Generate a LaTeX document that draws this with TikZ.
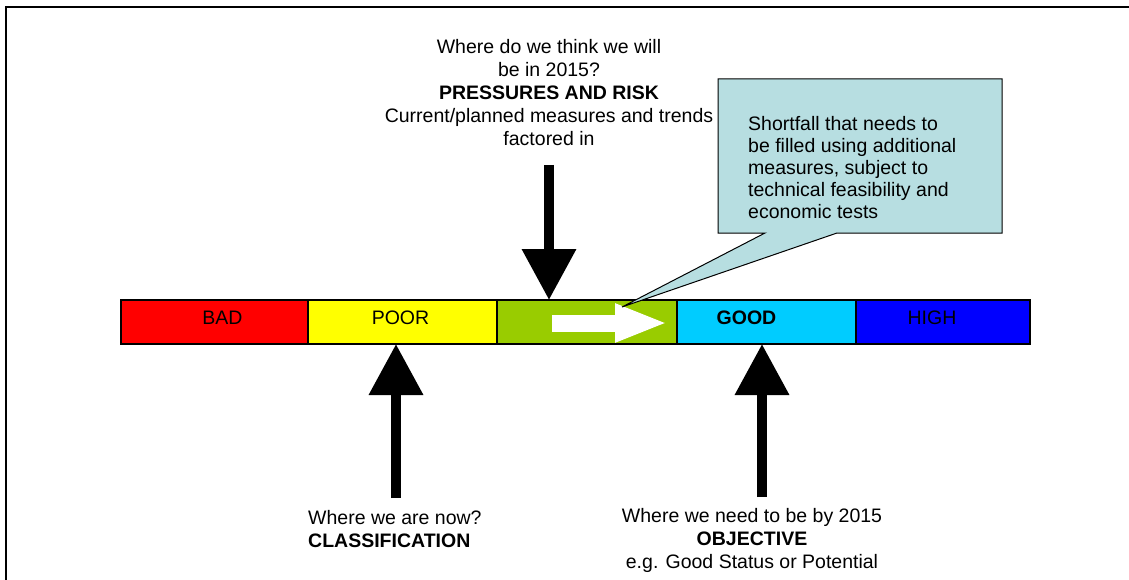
\documentclass[tikz,border=0pt]{standalone}
\usepackage{fontspec}
\setmainfont{Liberation Sans}
\usetikzlibrary{arrows.meta,calc}

\definecolor{badred}{HTML}{FF0000}
\definecolor{pooryellow}{HTML}{FFFF00}
\definecolor{modgreen}{HTML}{99CC00}
\definecolor{goodcyan}{HTML}{00CCFF}
\definecolor{highblue}{HTML}{0000FF}
\definecolor{calloutfill}{HTML}{B7DEE1}

\tikzset{
  seg/.style={draw=black, line width=1.5pt, rectangle, inner sep=0pt,
    outer sep=0pt, minimum height=44pt, anchor=north west},
  barlabel/.style={font=\fontsize{19.5}{22}\selectfont, inner sep=0pt},
  txt/.style={font=\fontsize{19.5}{23}\selectfont, inner sep=0pt},
  calltxt/.style={font=\fontsize{19.5}{22}\selectfont, inner sep=0pt, align=left, anchor=west},
  blockarrow/.style={draw=black, line width=10pt, -{Triangle[width=52pt,length=51pt]}},
  shortarrow/.style={draw=white, line width=17pt, -{Triangle[width=35pt,length=53pt]}},
  callout/.style={fill=calloutfill, draw=black, line width=1pt, line join=miter},
  frameline/.style={draw=black, line width=2pt}
}

\begin{document}
\begin{tikzpicture}[x=1pt, y=-1pt]
  \useasboundingbox (0,0) rectangle (1129,580);

  % page frame
  \draw[frameline] (6,580) -- (6,7.5) -- (1129,7.5);

  % status bar
  \node[seg, fill=badred,     minimum width=187pt] (bad)  at (121,300) {};
  \node[seg, fill=pooryellow, minimum width=189pt] (poor) at (bad.north east) {};
  \node[seg, fill=modgreen,   minimum width=180pt] (mod)  at (poor.north east) {};
  \node[seg, fill=goodcyan,   minimum width=179pt] (good) at (mod.north east) {};
  \node[seg, fill=highblue,   minimum width=174pt] (high) at (good.north east) {};

  \node[barlabel] (badlbl)  at ([yshift=4pt,xshift=8pt]bad.center)  {BAD};
  \node[barlabel] (poorlbl) at ([yshift=4pt,xshift=-2pt]poor.center) {POOR};
  \node[barlabel] (goodlbl) at ([yshift=4pt,xshift=-20pt]good.center) {\textbf{GOOD}};
  \node[barlabel] (highlbl) at ([yshift=4pt,xshift=-11pt]high.center) {HIGH};

  % shortfall arrow inside the moderate band
  \coordinate (shortFrom) at (552,323);
  \coordinate (shortTo)   at (668,323);
  \draw[shortarrow] (shortFrom) -- (shortTo);

  % callout box with its pointer
  \coordinate (cNW) at (718,79);
  \coordinate (cNE) at (1002,79);
  \coordinate (cSE) at (1002,233);
  \coordinate (cSW) at (718,233);
  \coordinate (cPR) at (837,233);
  \coordinate (cPL) at (765,233);
  \coordinate (cTip) at (622,307);
  \path[callout] (cNW) -- (cNE) -- (cSE) -- (cPR) -- (cTip) -- (cPL) -- (cSW) -- cycle;
  \node[calltxt] (shortfall) at (748,167.5)
    {Shortfall that needs to\\be filled using additional\\measures, subject to\\technical feasibility and\\economic tests};

  % pressures and risk
  \node[txt, align=center] (press) at (549,92.5)
    {Where do we think we will\\be in 2015?\\\textbf{PRESSURES AND RISK}\\Current/planned measures and trends\\factored in};
  \coordinate (pressTail) at (549,165);
  \draw[blockarrow] (pressTail) -- (pressTail |- mod.north);

  % classification
  \node[txt, align=left, anchor=west] (class) at (308,529)
    {Where we are now?\\\textbf{CLASSIFICATION}};
  \coordinate (classTail) at (396,498);
  \draw[blockarrow] (classTail) -- (classTail |- poor.south);

  % objective
  \node[txt, align=center] (objective) at (752,540)
    {Where we need to be by 2015\\\textbf{OBJECTIVE}\\e.g. Good Status or Potential};
  \coordinate (objTail) at (762,497);
  \draw[blockarrow] (objTail) -- (objTail |- good.south);
\end{tikzpicture}
\end{document}
